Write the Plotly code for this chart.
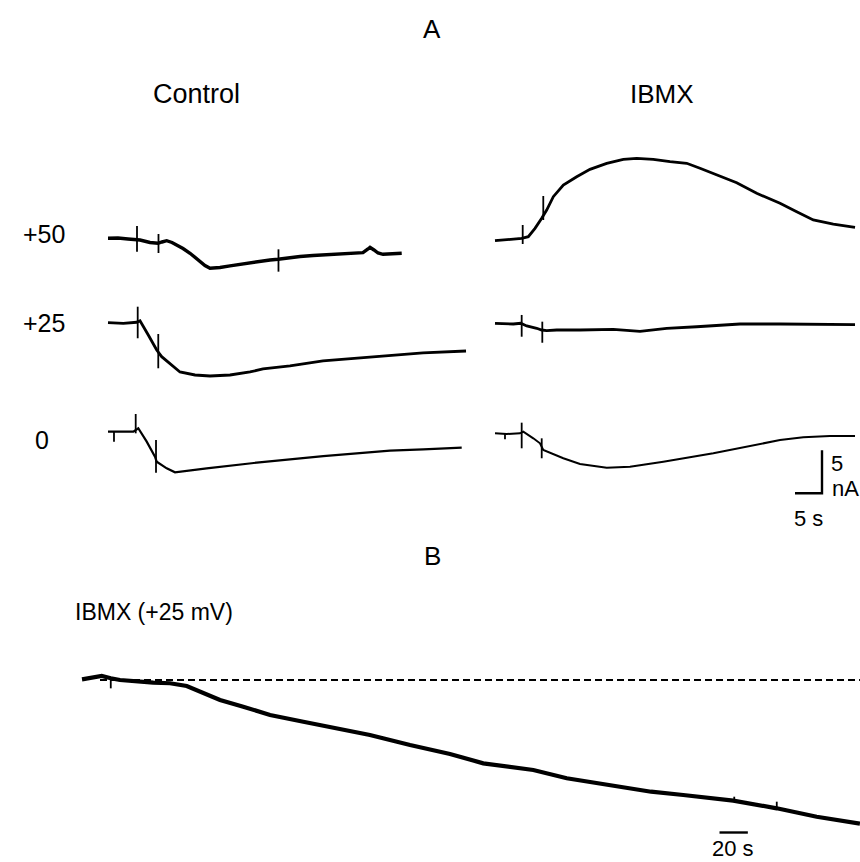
import plotly.graph_objects as go

# ---------------- data (time in s, current in nA, relative to trace start) -------------
# Panel A, Control, +50 mV
ctrl50_t = [0, 1.85, 3.70, 5.28, 5.93, 7.78, 9.26, 10.0, 10.87, 11.85, 12.72, 13.89, 15.19, 16.11,
            17.04, 17.96, 18.89, 20.74, 22.59, 24.44, 26.30, 28.15, 30.0, 31.48, 33.70, 35.56, 37.96,
            39.81, 42.04, 44.81, 47.22, 48.15, 48.52, 49.26, 50.0, 50.93, 52.59, 54.39]
ctrl50_i = [0, 0.03, -0.08, -0.1, -0.2, -0.49, -0.58, -0.43, -0.28, -0.49, -0.78, -1.19, -1.74, -2.23,
            -2.72, -3.16, -3.49, -3.40, -3.20, -3.02, -2.87, -2.70, -2.52, -2.44, -2.23, -2.12, -2.0,
            -1.94, -1.83, -1.77, -1.67, -1.24, -1.05, -1.36, -1.71, -1.86, -1.77, -1.74]
ctrl50_spk_t = [5.37, 9.35, 31.57]
ctrl50_spk_hi = [1.43, 0.5, -1.28]
ctrl50_spk_lo = [-1.56, -1.71, -3.88]

# Panel A, IBMX, +50 mV
ibmx50_t = [0, 2.78, 4.94, 6.17, 7.41, 8.65, 9.57, 10.80, 12.65, 15.13, 17.59, 20.69, 23.76, 26.24,
            29.31, 32.41, 35.50, 37.96, 41.06, 44.76, 48.46, 52.78, 55.87, 58.94, 62.65, 66.67]
ibmx50_i = [-0.28, -0.12, 0, 0.19, 1.16, 2.33, 3.29, 4.84, 6.20, 7.16, 8.02, 8.72, 9.19, 9.30,
            9.19, 8.91, 8.72, 8.14, 7.36, 6.47, 5.23, 4.07, 3.09, 2.13, 1.66, 1.28]
ibmx50_spk_t = [5.13, 8.94]
ibmx50_spk_hi = [1.55, 4.92]
ibmx50_spk_lo = [-0.66, 2.13]

# Panel A, Control, +25 mV
ctrl25_t = [0, 2.83, 5.31, 5.93, 7.46, 9.02, 9.94, 12.09, 13.33, 16.11, 18.89, 22.59, 26.30, 28.70,
            33.70, 39.81, 46.67, 52.22, 58.33, 66.30]
ctrl25_i = [0, -0.07, 0.05, 0.23, -1.43, -3.17, -3.95, -5.12, -5.73, -6.08, -6.20, -6.08, -5.73, -5.38,
            -5.03, -4.45, -4.10, -3.87, -3.52, -3.29]
ctrl25_spk_t = [5.5, 9.31]
ctrl25_spk_hi = [1.86, -1.31]
ctrl25_spk_lo = [-1.81, -5.30]

# Panel A, IBMX, +25 mV
ibmx25_t = [0, 3.39, 4.76, 5.87, 7.72, 8.65, 9.57, 11.43, 15.74, 21.91, 26.85, 31.80, 37.35, 45.37,
            52.78, 58.94, 66.67]
ibmx25_i = [-0.07, -0.15, -0.07, -0.38, -0.65, -0.85, -0.93, -0.85, -0.85, -0.77, -1.0, -0.65, -0.47,
            -0.15, -0.15, -0.15, -0.23]
ibmx25_spk_t = [4.94, 8.76]
ibmx25_spk_hi = [0.90, 0.12]
ibmx25_spk_lo = [-1.63, -2.33]

# Panel A, Control, 0 mV
ctrl0_t = [0, 4.69, 5.61, 7.17, 8.70, 9.02, 10.87, 12.41, 18.28, 27.54, 39.87, 52.22, 58.39, 65.50]
ctrl0_i = [0, 0, 0.40, -1.16, -2.91, -3.49, -4.26, -4.72, -4.26, -3.60, -2.83, -2.21, -2.05, -1.86]
ctrl0_spk_t = [1.11, 5.13, 8.89]
ctrl0_spk_hi = [0, 2.06, -0.97]
ctrl0_spk_lo = [-1.16, -0.19, -4.77]

# Panel A, IBMX, 0 mV
ibmx0_t = [0, 2.17, 4.63, 5.24, 7.09, 8.33, 8.94, 12.65, 15.74, 20.69, 25.0, 31.17, 40.43, 47.83,
           52.78, 57.09, 62.04, 66.67]
ibmx0_i = [-0.19, -0.27, -0.19, 0, -0.77, -1.35, -2.13, -3.09, -3.76, -4.19, -4.07, -3.49, -2.51,
           -1.55, -0.97, -0.65, -0.50, -0.50]
ibmx0_spk_t = [1.85, 4.94, 8.65]
ibmx0_spk_hi = [-0.27, 1.05, -0.77]
ibmx0_spk_lo = [-0.88, -1.93, -3.09]

# Panel B, IBMX (+25 mV), long recording
b_t = [0, 13.9, 20.3, 26.8, 50.3, 62.1, 73.9, 85.6, 97.4, 113.8, 132.7, 156.2, 177.4, 203.2, 231.5,
       259.7, 283.2, 318.5, 342.1, 377.4, 401.6, 424.3, 459.6, 490.3, 518.5, 549.0]
b_i = [0.08, 0.47, 0.2, 0, -0.31, -0.38, -0.70, -1.55, -2.33, -3.10, -4.07, -4.85, -5.50, -6.40, -7.56,
       -8.60, -9.69, -10.47, -11.43, -12.33, -12.99, -13.37, -14.03, -14.92, -15.90, -16.70]
b_spk_t = [20.3, 460.3, 490.3]
b_spk_hi = [0.2, -13.57, -14.15]
b_spk_lo = [-0.97, -14.03, -14.92]
b_base_t = [12.7, 549.0]

row_labels = ["+50", "+25", "0"]
col_labels = ["Control", "IBMX"]

# ---------------- layout geometry ----------------
W, H = 860, 862
SPLIT_PX = 560                      # boundary between panel A and panel B
A_SX, A_SY = 5.4, 8.6               # px per s, px per nA
A_X0_PX, A_Y0_PX = 108, 238.3       # start of control traces, baseline of +50 row
COL_OFF = [0.0, (495 - 108) / A_SX]  # IBMX column shift (s)
ROW_OFF = [0.0, -(322.7 - 238.3) / A_SY, -(431.7 - 238.3) / A_SY]
B_SX, B_SY = 1.417, 8.6
B_X0_PX, B_Y0_PX = 82, 680

def ax_x(px):
    return (px - A_X0_PX) / A_SX

def ax_y(py):
    return -(py - A_Y0_PX) / A_SY

def bx_x(px):
    return (px - B_X0_PX) / B_SX

def bx_y(py):
    return -(py - B_Y0_PX) / B_SY

fig = go.Figure()

def add_trace(t, i, st, shi, slo, col, row, width=2.6):
    xo, yo = COL_OFF[col], ROW_OFF[row]
    fig.add_trace(go.Scatter(x=[v + xo for v in t], y=[v + yo for v in i], mode="lines",
                             line=dict(color="black", width=width), hoverinfo="skip",
                             xaxis="x", yaxis="y"))
    sx, sy = [], []
    for tt, h, l in zip(st, shi, slo):
        sx += [tt + xo, tt + xo, None]
        sy += [h + yo, l + yo, None]
    fig.add_trace(go.Scatter(x=sx, y=sy, mode="lines", line=dict(color="black", width=1.8),
                             hoverinfo="skip", xaxis="x", yaxis="y"))

add_trace(ctrl50_t, ctrl50_i, ctrl50_spk_t, ctrl50_spk_hi, ctrl50_spk_lo, 0, 0, 3.4)
add_trace(ibmx50_t, ibmx50_i, ibmx50_spk_t, ibmx50_spk_hi, ibmx50_spk_lo, 1, 0, 2.8)
add_trace(ctrl25_t, ctrl25_i, ctrl25_spk_t, ctrl25_spk_hi, ctrl25_spk_lo, 0, 1, 2.8)
add_trace(ibmx25_t, ibmx25_i, ibmx25_spk_t, ibmx25_spk_hi, ibmx25_spk_lo, 1, 1, 2.8)
add_trace(ctrl0_t, ctrl0_i, ctrl0_spk_t, ctrl0_spk_hi, ctrl0_spk_lo, 0, 2, 2.2)
add_trace(ibmx0_t, ibmx0_i, ibmx0_spk_t, ibmx0_spk_hi, ibmx0_spk_lo, 1, 2, 2.0)

# scale bar for panel A: 5 s horizontal, 5 nA vertical
sb_x0, sb_y0 = ax_x(795), ax_y(493.3)
fig.add_trace(go.Scatter(x=[sb_x0, sb_x0 + 5, sb_x0 + 5], y=[sb_y0, sb_y0, sb_y0 + 5],
                         mode="lines", line=dict(color="black", width=2.4), hoverinfo="skip",
                         xaxis="x", yaxis="y"))

# panel B: dashed baseline, trace and 20 s bar
fig.add_trace(go.Scatter(x=b_base_t, y=[0, 0], mode="lines",
                         line=dict(color="black", width=2, dash="7px,4px"), hoverinfo="skip",
                         xaxis="x2", yaxis="y2"))
fig.add_trace(go.Scatter(x=b_t, y=b_i, mode="lines", line=dict(color="black", width=4.2),
                         hoverinfo="skip", xaxis="x2", yaxis="y2"))
bsx, bsy = [], []
for tt, h, l in zip(b_spk_t, b_spk_hi, b_spk_lo):
    bsx += [tt, tt, None]
    bsy += [h, l, None]
fig.add_trace(go.Scatter(x=bsx, y=bsy, mode="lines", line=dict(color="black", width=1.8),
                         hoverinfo="skip", xaxis="x2", yaxis="y2"))
bb_x0, bb_y = bx_x(719.5), bx_y(832.5)
fig.add_trace(go.Scatter(x=[bb_x0, bb_x0 + 20], y=[bb_y, bb_y], mode="lines",
                         line=dict(color="black", width=2.4), hoverinfo="skip",
                         xaxis="x2", yaxis="y2"))

# ---------------- text ----------------
FONT = "Liberation Sans, Arial, Helvetica, sans-serif"

def label(text, px, py, size=24, xanchor="center"):
    fig.add_annotation(text=text, x=px / W, y=1 - py / H, xref="paper", yref="paper",
                       showarrow=False, xanchor=xanchor, yanchor="middle",
                       font=dict(family=FONT, size=size, color="black"))

label("A", 432, 29, 26)
label(col_labels[0], 196, 94, 27)
label(col_labels[1], 662, 94, 26)
label(row_labels[0], 44, 234, 25)
label(row_labels[1], 44, 323, 25)
label(row_labels[2], 42, 440, 25)
label("5", 837, 463, 22)
label("nA", 845, 488, 22)
label("5 s", 808, 518, 22)
label("B", 432, 556, 26)
label("IBMX (+25 mV)", 73, 612, 23, xanchor="left")
label("20 s", 733, 848, 22)

split = 1 - SPLIT_PX / H
fig.update_layout(
    width=W, height=H, margin=dict(l=0, r=0, t=0, b=0),
    paper_bgcolor="white", plot_bgcolor="rgba(0,0,0,0)", showlegend=False,
    xaxis=dict(domain=[0, 1], range=[ax_x(0), ax_x(W)], visible=False, fixedrange=True),
    yaxis=dict(domain=[split, 1], range=[ax_y(SPLIT_PX), ax_y(0)], visible=False, fixedrange=True),
    xaxis2=dict(domain=[0, 1], range=[bx_x(0), bx_x(W)], visible=False, fixedrange=True,
                anchor="y2"),
    yaxis2=dict(domain=[0, split], range=[bx_y(H), bx_y(SPLIT_PX)], visible=False,
                fixedrange=True, anchor="x2"),
)

fig.write_html("out.html")
